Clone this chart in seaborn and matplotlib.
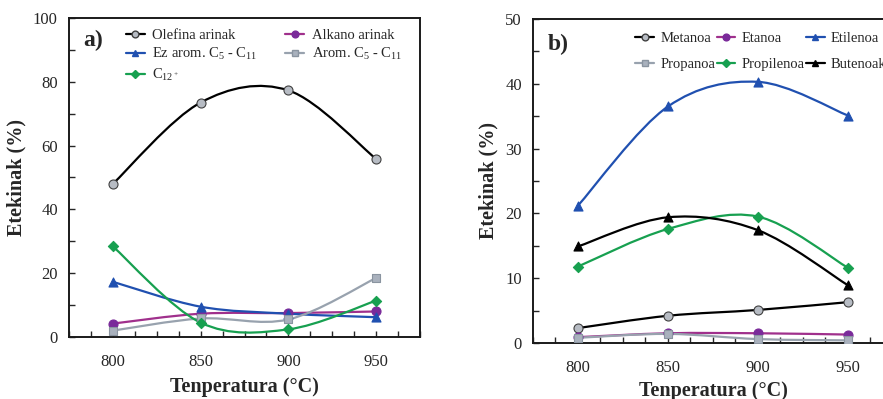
"""Etekinak vs tenperatura: two panels, smoothed lines as in the original figure."""

import matplotlib.pyplot as plt
import numpy as np
import pandas as pd
import seaborn as sns
from matplotlib.lines import Line2D
from matplotlib.patches import PathPatch
from matplotlib.path import Path
from matplotlib.ticker import MultipleLocator

temps = [800, 850, 900, 950]

# panel a)
olefina = [48.0, 73.5, 77.3, 55.8]
alkano = [4.2, 7.3, 7.5, 8.0]
ez_arom = [17.3, 9.5, 7.3, 6.2]
arom = [2.0, 5.8, 5.5, 18.5]
c12 = [28.4, 4.5, 2.4, 11.4]

# panel b)
metanoa = [2.3, 4.2, 5.1, 6.3]
etanoa = [0.9, 1.5, 1.5, 1.3]
etilenoa = [21.2, 36.5, 40.3, 35.1]
propanoa = [0.8, 1.4, 0.6, 0.4]
propilenoa = [11.8, 17.6, 19.5, 11.6]
butenoak = [14.9, 19.4, 17.4, 8.9]

BLACK = "#000000"
GRAY_M = "#b7bcc4"
PURPLE_L = "#a0308c"
PURPLE_M = "#7a2a9a"
BLUE = "#2050b0"
GREEN = "#17a050"
GRAY_SQ = "#a9b1bd"
GRAY_L = "#98a2ae"

# (label, values, line colour, marker, marker face, marker edge, marker size)
series_a = [
    ("Olefina arinak", olefina, BLACK, "o", GRAY_M, "#404040", 6.5),
    ("Alkano arinak", alkano, PURPLE_L, "o", PURPLE_M, PURPLE_M, 6.5),
    ("Ez arom. C$_5$ - C$_{11}$", ez_arom, BLUE, "^", BLUE, BLUE, 6.5),
    ("Arom. C$_5$ - C$_{11}$", arom, GRAY_L, "s", GRAY_SQ, "#8a94a0", 6),
    ("C$_{12^+}$", c12, GREEN, "D", GREEN, GREEN, 5.2),
]
series_b = [
    ("Metanoa", metanoa, BLACK, "o", GRAY_M, "#404040", 6.5),
    ("Etanoa", etanoa, PURPLE_L, "o", PURPLE_M, PURPLE_M, 6.5),
    ("Etilenoa", etilenoa, BLUE, "^", BLUE, BLUE, 6.5),
    ("Propanoa", propanoa, GRAY_L, "s", GRAY_SQ, "#8a94a0", 6),
    ("Propilenoa", propilenoa, GREEN, "D", GREEN, GREEN, 5.2),
    ("Butenoak", butenoak, BLACK, "^", BLACK, BLACK, 6.5),
]


def smooth_path(x, y):
    """Catmull-Rom style Bezier through the points (like spreadsheet smoothed lines)."""
    pts = np.column_stack([x, y]).astype(float)
    ext = np.vstack([pts[0], pts, pts[-1]])
    verts = [pts[0]]
    codes = [Path.MOVETO]
    for i in range(len(pts) - 1):
        p0, p1, p2, p3 = ext[i], ext[i + 1], ext[i + 2], ext[i + 3]
        verts += [p1 + (p2 - p0) / 6, p2 - (p3 - p1) / 6, p2]
        codes += [Path.CURVE4] * 3
    return Path(verts, codes)


def draw_panel(ax, series, ymax, ymajor, yminor, tag, tag_xy, xlabelpad):
    handles = []
    for label, vals, lc, mk, mf, me, ms in series:
        ax.add_patch(PathPatch(smooth_path(temps, vals), facecolor="none",
                               edgecolor=lc, lw=1.6, zorder=2))
        df = pd.DataFrame({"T": temps, "v": vals})
        sns.scatterplot(data=df, x="T", y="v", ax=ax, marker=mk, s=ms ** 2,
                        color=mf, edgecolor=me, linewidth=0.8, zorder=3,
                        legend=False)
        handles.append(Line2D([], [], color=lc, lw=1.6, marker=mk,
                              markersize=ms * 0.75, markerfacecolor=mf,
                              markeredgecolor=me, label=label))
    ax.set_xlim(775, 975)
    ax.set_ylim(0, ymax)
    ax.xaxis.set_minor_locator(MultipleLocator(12.5))
    ax.yaxis.set_major_locator(MultipleLocator(ymajor))
    ax.yaxis.set_minor_locator(MultipleLocator(yminor))
    ax.set_xticks([800, 850, 900, 950])
    ax.tick_params(which="both", direction="in", length=4, width=1,
                   labelsize=12, top=False, right=False)
    ax.tick_params(axis="x", pad=12)
    ax.tick_params(axis="y", pad=8)
    for sp in ax.spines.values():
        sp.set_linewidth(1.4)
        sp.set_color("#1a1a1a")
    ax.set_xlabel("Tenperatura (°C)", fontsize=14.5, fontweight="bold",
                  labelpad=xlabelpad)
    ax.set_ylabel("Etekinak (%)", fontsize=14.5, fontweight="bold", labelpad=5)
    ax.text(tag_xy[0], tag_xy[1], tag, transform=ax.transAxes, fontsize=17,
            fontweight="bold", va="center")
    return handles


sns.set_style("ticks")
plt.rcParams["font.family"] = ["Liberation Serif", "DejaVu Serif"]
plt.rcParams["mathtext.fontset"] = "custom"
plt.rcParams["mathtext.rm"] = "Liberation Serif"
plt.rcParams["mathtext.it"] = "Liberation Serif"

fig = plt.figure(figsize=(8.83, 3.99), dpi=100)
ax_a = fig.add_axes([0.0781, 0.1554, 0.3976, 0.7995])
ax_b = fig.add_axes([0.6036, 0.1404, 0.4077, 0.8120])

h_a = draw_panel(ax_a, series_a, 100, 20, 10, "a)", (0.04, 0.93), 5)
h_b = draw_panel(ax_b, series_b, 50, 10, 5, "b)", (0.042, 0.92), 4)

# legend a): rows Olefina/Alkano, Ez arom/Arom, C12+
order_a = [h_a[0], h_a[2], h_a[4], h_a[1], h_a[3]]
ax_a.legend(handles=order_a, ncol=2, loc="upper left",
            bbox_to_anchor=(0.125, 1.008), frameon=False, fontsize=10.5,
            handlelength=1.3, handletextpad=0.5, columnspacing=1.9,
            labelspacing=0.3)

order_b = [h_b[0], h_b[3], h_b[1], h_b[4], h_b[2], h_b[5]]
ax_b.legend(handles=order_b, ncol=3, loc="upper left",
            bbox_to_anchor=(0.248, 1.0), frameon=False, fontsize=10.5,
            handlelength=1.3, handletextpad=0.4, columnspacing=0.1,
            labelspacing=0.85)

fig.savefig("out.png", dpi=100)
